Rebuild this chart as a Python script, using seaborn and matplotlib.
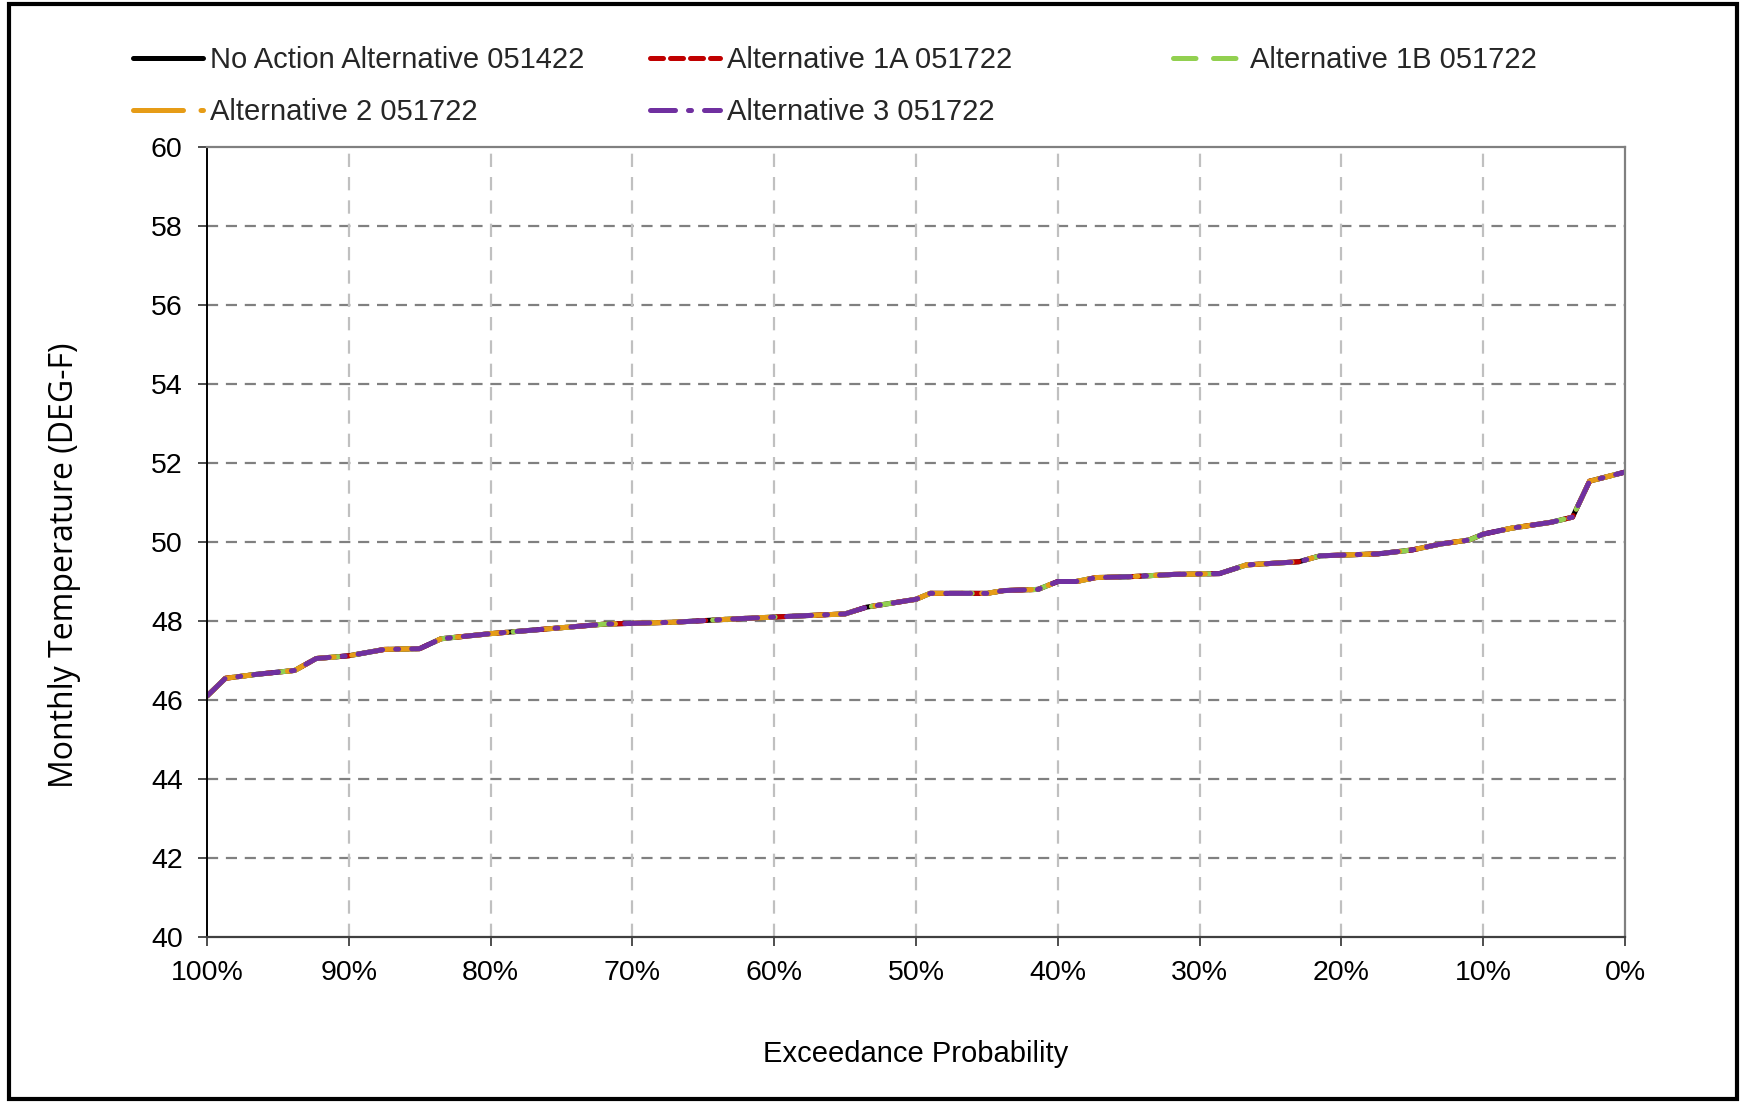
import matplotlib
matplotlib.use("Agg")
import matplotlib.pyplot as plt
import seaborn as sns
import pandas as pd
from matplotlib.patches import Rectangle
from matplotlib.ticker import FuncFormatter

# ---- data ----
exceedance = [100.0, 98.7, 96.5, 93.8, 92.3, 90.0, 87.5, 85.0, 83.5, 80.0,
              76.0, 72.0, 67.0, 63.0, 60.0, 55.0, 53.5, 50.0, 49.0, 45.0,
              43.8, 41.4, 40.0, 38.7, 37.3, 35.0, 31.8, 28.6, 26.7, 23.0,
              21.5, 17.4, 15.0, 13.0, 11.0, 10.0, 8.0, 5.2, 3.7, 2.5, 0.0]
temperature = [46.1, 46.55, 46.65, 46.75, 47.05, 47.12, 47.28, 47.3, 47.55, 47.68,
               47.8, 47.92, 47.97, 48.05, 48.1, 48.18, 48.35, 48.55, 48.7, 48.7,
               48.77, 48.8, 49.0, 49.0, 49.1, 49.12, 49.18, 49.2, 49.42, 49.5,
               49.65, 49.7, 49.8, 49.95, 50.05, 50.2, 50.35, 50.5, 50.63, 51.54, 51.77]

series_names = ["No Action Alternative 051422", "Alternative 1A 051722",
                "Alternative 1B 051722", "Alternative 2 051722",
                "Alternative 3 051722"]
series_values = {name: list(temperature) for name in series_names}

colors = ["#000000", "#c00000", "#92d050", "#e69c17", "#7030a0"]
dash_styles = ["-", (0, (2.6, 1.4)), (0, (4.5, 3.5)), (0, (10, 3.5, 0.6, 3.5)),
               (0, (5, 2.6, 0.6, 2.6))]

x_ticks = [100, 90, 80, 70, 60, 50, 40, 30, 20, 10, 0]
y_ticks = [40, 42, 44, 46, 48, 50, 52, 54, 56, 58, 60]

# ---- plot ----
sns.set_theme(style="white")
plt.rcParams["font.family"] = ["Liberation Sans", "DejaVu Sans"]

W, H = 1743, 1102
fig = plt.figure(figsize=(W / 100, H / 100), dpi=100)
ax = fig.add_axes([207 / W, 1 - 937 / H, (1625 - 207) / W, (937 - 147) / H])

handles = {}
for name, col, ls in zip(series_names, colors, dash_styles):
    df = pd.DataFrame({"x": exceedance, "y": series_values[name]})
    sns.lineplot(data=df, x="x", y="y", ax=ax, color=col, linewidth=3.6,
                 linestyle=ls, sort=False, estimator=None,
                 solid_capstyle="round", dash_capstyle="round")
    handles[name] = ax.get_lines()[-1]

ax.set_xlim(100, 0)
ax.set_ylim(40, 60)
ax.set_xticks(x_ticks)
ax.set_yticks(y_ticks)
ax.xaxis.set_major_formatter(FuncFormatter(lambda v, p: f"{int(round(v))}%"))
ax.tick_params(axis="both", labelsize=20.5, colors="black", direction="out",
               length=6.5, width=1.3, left=True, bottom=True)
ax.tick_params(axis="both", color="#404040")
ax.tick_params(axis="x", pad=10)
ax.tick_params(axis="y", pad=11)

ax.grid(False)
for yv in y_ticks[1:-1]:
    ax.axhline(yv, color="#808080", linestyle=(0, (5, 3.5)), linewidth=1.6, zorder=0)
for xv in x_ticks[1:-1]:
    ax.axvline(xv, color="#c0c0c0", linestyle=(0, (6, 4.5)), linewidth=1.6, zorder=0)

for side in ["top", "right"]:
    ax.spines[side].set_color("#808080")
    ax.spines[side].set_linewidth(1.6)
ax.spines["left"].set_color("black")
ax.spines["left"].set_linewidth(1.4)
ax.spines["bottom"].set_color("#404040")
ax.spines["bottom"].set_linewidth(1.6)

ax.set_xlabel("Exceedance Probability", fontsize=21, color="black")
ax.xaxis.set_label_coords(0.5, -0.13)
ax.set_ylabel("Monthly Temperature (DEG-F)", fontsize=23, color="black",
              family=["Open Sans", "DejaVu Sans"])
ax.yaxis.set_label_coords(-0.089, 0.47)

# legend: three columns with fixed starting positions (Excel-style layout)
columns = [[series_names[0], series_names[3]],
           [series_names[1], series_names[4]],
           [series_names[2]]]
col_x = [133, 650, 1173]
for names, cx in zip(columns, col_x):
    lg = fig.legend([handles[n] for n in names], names, loc="upper left",
                    bbox_to_anchor=(cx / W, 1 - 46 / H), frameon=False,
                    fontsize=21, handlelength=2.4, handletextpad=0.25,
                    borderpad=0, borderaxespad=0, labelspacing=0.82)

fig.patches.append(Rectangle((9 / W, 3 / H), (1737 - 9) / W, (1098 - 3) / H,
                             transform=fig.transFigure, fill=False,
                             edgecolor="black", linewidth=3))

fig.savefig("out.png", dpi=100)
